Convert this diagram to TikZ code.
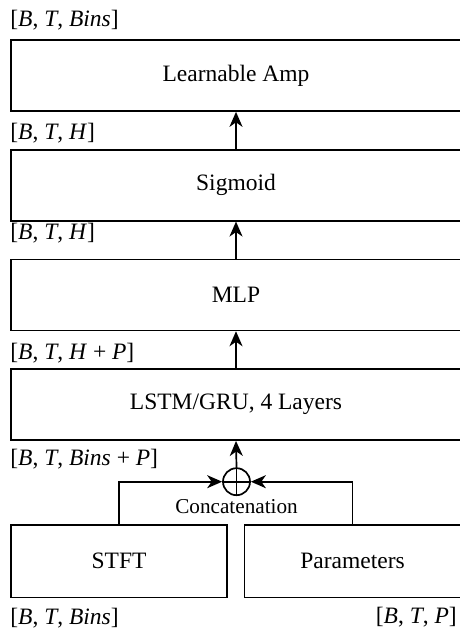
\documentclass[tikz,border=0pt]{standalone}
\usepackage{fontspec}
\setmainfont{Liberation Serif}
\usetikzlibrary{positioning,arrows.meta}

\begin{document}
\begin{tikzpicture}[x=1pt,y=1pt,
    block/.style={draw, line width=1.7pt, minimum width=450pt, minimum height=71pt, inner sep=0pt, font=\fontsize{23.5}{28}\selectfont},
    halfblock/.style={block, minimum width=216pt, minimum height=72.5pt},
    dims/.style={inner sep=0pt, anchor=base west, font=\fontsize{23.5}{28}\selectfont},
    flow/.style={line width=1.7pt, -{Stealth[length=15pt,width=13pt,inset=4.5pt]}}]
    \useasboundingbox (0,0) rectangle (459,628);

    % network blocks
    \node [block] (amp) at (236,552.5) {Learnable Amp};
    \node [block, below=37pt of amp] (sig) {Sigmoid};
    \node [block, below=37pt of sig] (mlp) {MLP};
    \node [block, below=37pt of mlp] (rnn) {LSTM/GRU, 4 Layers};

    \node [halfblock] (stft) at (119,66.75) {STFT};
    \node [halfblock] (par) at (352.6,66.75) {Parameters};

    % concatenation
    \node [circle, draw, line width=1.7pt, minimum size=27pt, inner sep=0pt] (oplus) at (236.5,146.3) {};
    \draw [line width=1.7pt] (oplus.north) -- (oplus.south) (oplus.west) -- (oplus.east);
    \node [font=\fontsize{21.2}{25}\selectfont] (concat) at (236.5,121.3) {Concatenation};

    % tensor shapes
    \node [dims] (dimamp) at ([yshift=13pt]amp.north west) {[\textit{B}, \textit{T}, \textit{Bins}]};
    \node [dims] (dimsig) at ([yshift=9pt]sig.north west) {[\textit{B}, \textit{T}, \textit{H}]};
    \node [dims] (dimmlp) at ([yshift=-17.5pt]sig.south west) {[\textit{B}, \textit{T}, \textit{H}]};
    \node [dims] (dimrnn) at ([yshift=9pt]rnn.north west) {[\textit{B}, \textit{T}, \textit{H} + \textit{P}]};
    \node [dims] (dimcat) at ([yshift=-25pt]rnn.south west) {[\textit{B}, \textit{T}, \textit{Bins} + \textit{P}]};
    \node [dims] (dimstft) at ([yshift=-26pt]stft.south west) {[\textit{B}, \textit{T}, \textit{Bins}]};
    \node [dims, anchor=base east] (dimpar) at (457,4.7) {[\textit{B}, \textit{T}, \textit{P}]};

    % connectors
    \draw [flow] (sig.north) -- (amp.south);
    \draw [flow] (mlp.north) -- (sig.south);
    \draw [flow] (rnn.north) -- (mlp.south);
    \draw [flow] (oplus.north) -- (rnn.south);
    \draw [flow] (stft.north) |- (oplus.west);
    \draw [flow] (par.north) |- (oplus.east);
\end{tikzpicture}
\end{document}
